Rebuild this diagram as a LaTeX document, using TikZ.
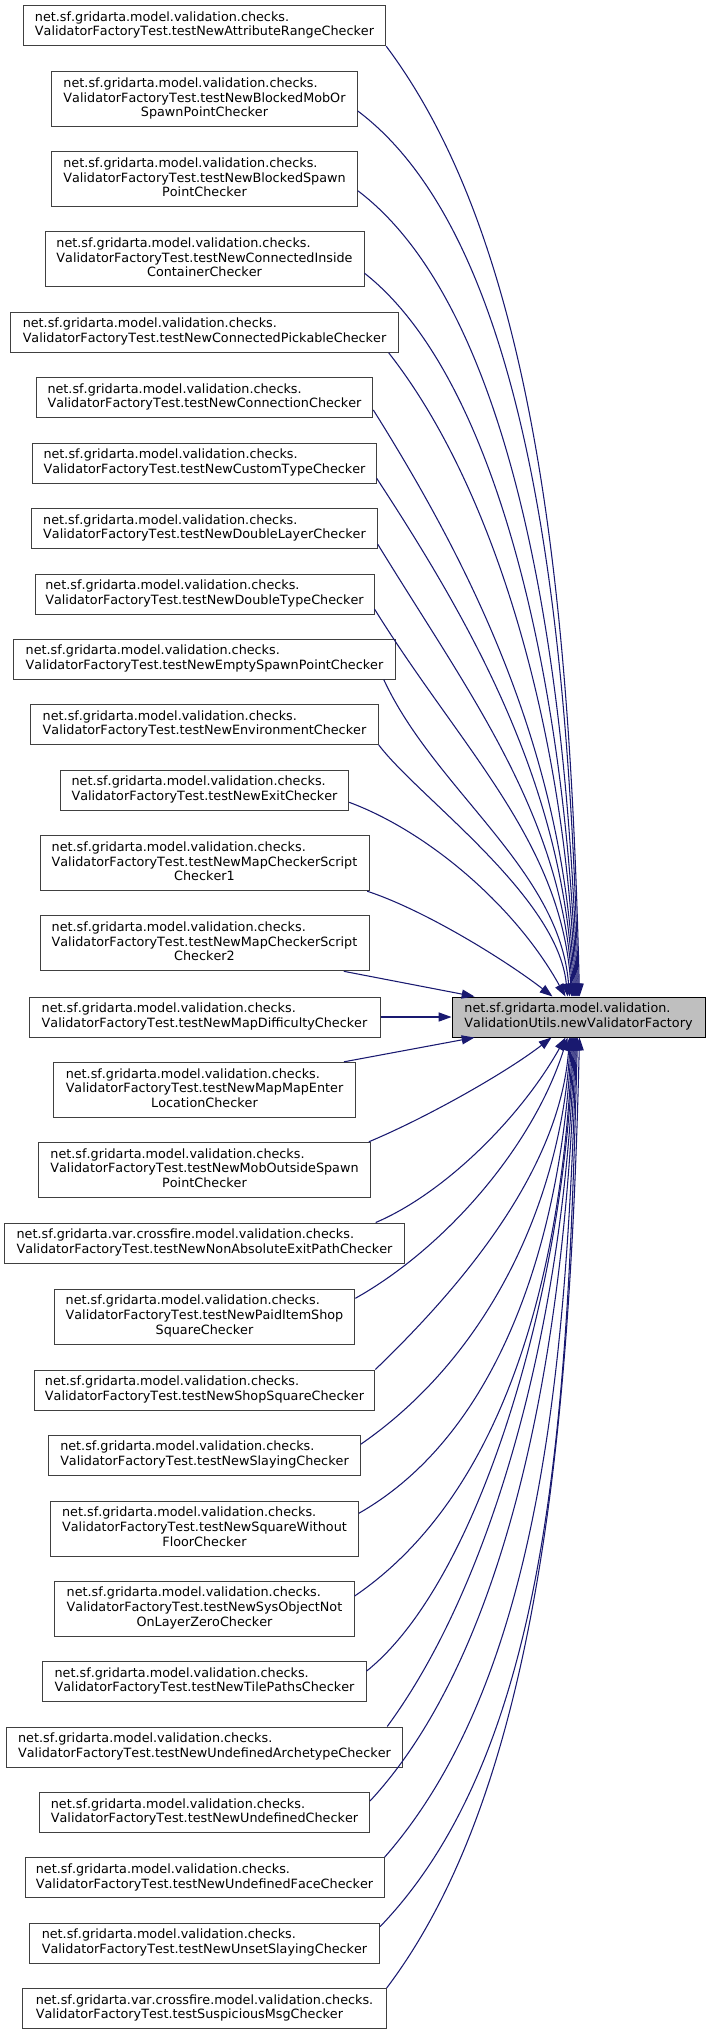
\documentclass[tikz,border=0pt]{standalone}
\usepackage{fontspec}
\setmainfont{DejaVu Sans}[Kerning=Off]
\usetikzlibrary{arrows.meta,calc}
\definecolor{edgeblue}{HTML}{191970}
\definecolor{boxline}{HTML}{404040}
\definecolor{tgtfill}{HTML}{BFBFBF}
\newcommand{\pkgA}{net.sf.gridarta.model.validation.checks.}
\newcommand{\pkgB}{net.sf.gridarta.var.crossfire.model.validation.checks.}
\newcommand{\vft}{ValidatorFactoryTest.}
\newcommand{\mytwo}[2]{\begin{tabular}{@{}l@{}}#1\\#2\end{tabular}}
\newcommand{\mythree}[3]{\begin{tabular}{@{}l@{}}#1\\#2\\\multicolumn{1}{@{}c@{}}{#3}\end{tabular}}
\begin{document}
\begin{tikzpicture}[x=0.75pt,y=-0.75pt,
  box/.style={draw=boxline, line width=0.75pt, fill=white, inner xsep=2pt, inner ysep=0pt,
    font=\fontsize{9.58}{11}\selectfont, minimum height=30pt},
  boxc/.style={box, minimum height=41.25pt},
  tgt/.style={box, draw=black, fill=tgtfill},
  call/.style={draw=edgeblue, line width=0.8pt, -{Triangle[length=9.6pt,width=6.8pt]}}]
\useasboundingbox (0,0) rectangle (711,2035);

\node[tgt, minimum width=189.75pt] (t) at (578.5,1017) {\mytwo{net.sf.gridarta.model.validation.}{ValidationUtils.newValidatorFactory}};

\node[box,  minimum width=271.8pt]  (b1)  at (204.5,25.7)   {\mytwo{\pkgA}{\vft testNewAttributeRangeChecker}};
\node[boxc, minimum width=229.2pt]  (b2)  at (204.5,99.2)   {\mythree{\pkgA}{\vft testNewBlockedMobOr}{SpawnPointChecker}};
\node[boxc, minimum width=229.2pt]  (b3)  at (204.5,179.2)  {\mythree{\pkgA}{\vft testNewBlockedSpawn}{PointChecker}};
\node[boxc, minimum width=239.25pt] (b4)  at (204.5,259.2)  {\mythree{\pkgA}{\vft testNewConnectedInside}{ContainerChecker}};
\node[box,  minimum width=290.5pt]  (b5)  at (204.5,332.3)  {\mytwo{\pkgA}{\vft testNewConnectedPickableChecker}};
\node[box,  minimum width=252.5pt]  (b6)  at (204.5,397.7)  {\mytwo{\pkgA}{\vft testNewConnectionChecker}};
\node[box,  minimum width=257.5pt]  (b7)  at (204.5,463.3)  {\mytwo{\pkgA}{\vft testNewCustomTypeChecker}};
\node[box,  minimum width=259.2pt]  (b8)  at (204.5,528.5)  {\mytwo{\pkgA}{\vft testNewDoubleLayerChecker}};
\node[box,  minimum width=254.25pt] (b9)  at (204.5,594)    {\mytwo{\pkgA}{\vft testNewDoubleTypeChecker}};
\node[box,  minimum width=286.8pt]  (b10) at (204.5,659.2)  {\mytwo{\pkgA}{\vft testNewEmptySpawnPointChecker}};
\node[box,  minimum width=260.7pt]  (b11) at (204.5,724.5)  {\mytwo{\pkgA}{\vft testNewEnvironmentChecker}};
\node[box,  minimum width=216.3pt]  (b12) at (204.5,790)    {\mytwo{\pkgA}{\vft testNewExitChecker}};
\node[boxc, minimum width=246.75pt] (b13) at (204.5,863.2)  {\mythree{\pkgA}{\vft testNewMapCheckerScript}{Checker1}};
\node[boxc, minimum width=246.75pt] (b14) at (204.5,943.3)  {\mythree{\pkgA}{\vft testNewMapCheckerScript}{Checker2}};
\node[box,  minimum width=263.25pt] (b15) at (204.5,1017)   {\mytwo{\pkgA}{\vft testNewMapDifficultyChecker}};
\node[boxc, minimum width=226.5pt]  (b16) at (204.5,1089.8) {\mythree{\pkgA}{\vft testNewMapMapEnter}{LocationChecker}};
\node[boxc, minimum width=249.3pt]  (b17) at (204.5,1169.8) {\mythree{\pkgA}{\vft testNewMobOutsideSpawn}{PointChecker}};
\node[box,  minimum width=300pt]    (b18) at (204.5,1243)   {\mytwo{\pkgB}{\vft testNewNonAbsoluteExitPathChecker}};
\node[boxc, minimum width=225.5pt]  (b19) at (204.5,1316.7) {\mythree{\pkgA}{\vft testNewPaidItemShop}{SquareChecker}};
\node[box,  minimum width=255.5pt]  (b20) at (204.5,1390)   {\mytwo{\pkgA}{\vft testNewShopSquareChecker}};
\node[box,  minimum width=233.5pt]  (b21) at (204.5,1455)   {\mytwo{\pkgA}{\vft testNewSlayingChecker}};
\node[boxc, minimum width=230.7pt]  (b22) at (204.5,1528.5) {\mythree{\pkgA}{\vft testNewSquareWithout}{FloorChecker}};
\node[boxc, minimum width=224.5pt]  (b23) at (204.5,1608.5) {\mythree{\pkgA}{\vft testNewSysObjectNot}{OnLayerZeroChecker}};
\node[box,  minimum width=242.5pt]  (b24) at (204.5,1681.7) {\mytwo{\pkgA}{\vft testNewTilePathsChecker}};
\node[box,  minimum width=296.7pt]  (b25) at (204.5,1747)   {\mytwo{\pkgA}{\vft testNewUndefinedArchetypeChecker}};
\node[box,  minimum width=247.5pt]  (b26) at (204.5,1812.5) {\mytwo{\pkgA}{\vft testNewUndefinedChecker}};
\node[box,  minimum width=269.25pt] (b27) at (204.5,1877.8) {\mytwo{\pkgA}{\vft testNewUndefinedFaceChecker}};
\node[box,  minimum width=262.5pt]  (b28) at (204.5,1943.2) {\mytwo{\pkgA}{\vft testNewUnsetSlayingChecker}};
\node[box,  minimum width=272.5pt]  (b29) at (204.5,2008.5) {\mytwo{\pkgB}{\vft testSuspiciousMsgChecker}};

% upper callers
\draw[call] (b1.south east) .. controls (536,246) and (570,600) .. ($(t.north west)+(128,0)$);
\draw[call] ($(b2.east)+(0,11.8)$) .. controls (533,243) and (569,640) .. ($(t.north west)+(127,0)$);
\draw[call] ($(b3.east)+(0,11.5)$) .. controls (517,311) and (568,675) .. ($(t.north west)+(126,0)$);
\draw[call] ($(b4.east)+(0,14)$) .. controls (504,383) and (567,707) .. ($(t.north west)+(125,0)$);
\draw[call] ($(b5.south east)+(-10,0)$) .. controls (498,492) and (566,739) .. ($(t.north west)+(124,0)$);
\draw[call] ($(b6.east)+(0,12.3)$) .. controls (480,580) and (565,762) .. ($(t.north west)+(123,0)$);
\draw[call] ($(b7.east)+(0,15)$) .. controls (476,630) and (564,789) .. ($(t.north west)+(122,0)$);
\draw[call] ($(b8.east)+(0,15.8)$) .. controls (470,695) and (563,816) .. ($(t.north west)+(121,0)$);
\draw[call] ($(b9.east)+(0,15)$) .. controls (462,750) and (562,842) .. ($(t.north west)+(120,0)$);
\draw[call] ($(b10.south east)+(-12.4,0)$) .. controls (435,790) and (560,870) .. ($(t.north west)+(118,0)$);
\draw[call] (b11.south east) .. controls (418,797) and (558,896) .. ($(t.north west)+(116,0)$);
\draw[call] ($(b12.east)+(0,12.3)$) .. controls (429,832) and (516,907) .. ($(t.north west)+(114,0)$);
\draw[call] ($(b13.south east)+(-2.3,0)$) .. controls (427,911) and (508,962) .. ($(t.north west)+(101,0)$);
\draw[call] ($(b14.south east)+(-25.7,0)$) -- ($(t.north west)+(23,0)$);
% middle
\draw[call] (b15.east) -- (t.west);
% lower callers
\draw[call] ($(b16.north east)+(-12,0)$) -- ($(t.south west)+(23,0)$);
\draw[call] ($(b17.north east)+(-2.4,0)$) .. controls (428,1117) and (507,1072) .. ($(t.south west)+(100,0)$);
\draw[call] ($(b18.north east)+(-29.3,0)$) .. controls (445,1193) and (521,1117) .. ($(t.south west)+(114,0)$);
\draw[call] ($(b19.east)+(0,-18.4)$) .. controls (445,1248) and (533,1147) .. ($(t.south west)+(116,0)$);
\draw[call] (b20.north east) .. controls (460,1288) and (560,1171) .. ($(t.south west)+(118,0)$);
\draw[call] ($(b21.east)+(0,-10.7)$) .. controls (490,1355) and (561,1200) .. ($(t.south west)+(119,0)$);
\draw[call] ($(b22.east)+(0,-15.2)$) .. controls (505,1430) and (562,1227) .. ($(t.south west)+(120,0)$);
\draw[call] ($(b23.east)+(0,-12.5)$) .. controls (510,1490) and (563,1261) .. ($(t.south west)+(121,0)$);
\draw[call] ($(b24.east)+(0,-10.7)$) .. controls (480,1580) and (564,1291) .. ($(t.south west)+(122,0)$);
\draw[call] ($(b25.north east)+(-15.6,0)$) .. controls (497,1577) and (565,1313) .. ($(t.south west)+(123,0)$);
\draw[call] ($(b26.east)+(0,-11.5)$) .. controls (510,1650) and (566,1343) .. ($(t.south west)+(124,0)$);
\draw[call] (b27.north east) .. controls (540,1680) and (567,1365) .. ($(t.south west)+(125,0)$);
\draw[call] ($(b28.east)+(0,-16.5)$) .. controls (555,1745) and (568,1393) .. ($(t.south west)+(126,0)$);
\draw[call] (b29.north east) .. controls (537,1789) and (570,1434) .. ($(t.south west)+(128,0)$);
\end{tikzpicture}
\end{document}
